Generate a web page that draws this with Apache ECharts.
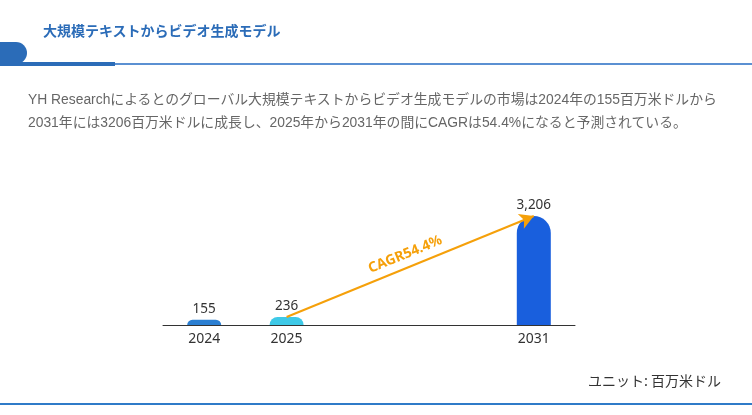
<!DOCTYPE html>
<html>
<head>
<meta charset="utf-8">
<script src="https://cdn.jsdelivr.net/npm/echarts@6/dist/echarts.min.js"></script>
<style>
  html, body { margin: 0; padding: 0; background: #fff; }
  body { width: 752px; height: 415px; position: relative; overflow: hidden; font-family: "Noto Sans CJK JP", "Noto Sans", sans-serif; }
  #chart { position: absolute; left: 0; top: 0; width: 752px; height: 415px; }
  .title { position: absolute; left: 43px; top: 20px; font-size: 14px; font-weight: bold; color: #2b6cb8; line-height: 20px; }
  .tab { position: absolute; left: 0; top: 42px; width: 27px; height: 22px; background: #2b6cb8; border-radius: 0 11px 11px 0; }
  .thick { position: absolute; left: 0; top: 62px; width: 115px; height: 4px; background: #2b6cb8; }
  .thin { position: absolute; left: 115px; top: 63px; width: 637px; height: 1.5px; background: #5b90d2; }
  .para { position: absolute; left: 28px; top: 88px; font-family: "Liberation Sans", "Noto Sans CJK JP", sans-serif; font-size: 13.85px; color: #666; line-height: 23px; white-space: nowrap; }
  .unit { position: absolute; right: 31px; top: 370px; font-size: 14px; color: #333; line-height: 20px; }
  .bottom { position: absolute; left: 0; top: 403px; width: 752px; height: 1.5px; background: #2f7bc8; }
</style>
</head>
<body>
<div id="chart"></div>
<div class="title">大規模テキストからビデオ生成モデル</div>
<div class="tab"></div>
<div class="thick"></div>
<div class="thin"></div>
<div class="para">YH Researchによるとのグローバル大規模テキストからビデオ生成モデルの市場は2024年の155百万米ドルから<br>2031年には3206百万米ドルに成長し、2025年から2031年の間にCAGRは54.4%になると予測されている。</div>
<div class="unit">ユニット: 百万米ドル</div>
<div class="bottom"></div>
<script>
const categories = ['2024', '2025', '', '', '2031'];
const values = [155, 236, null, null, 3206];
const barColors = ['#2b7fd2', '#3ec9e7', null, null, '#195fdd'];
const cagrLabel = 'CAGR54.4%';
const cagrFrom = ['2025', 236];
const cagrTo = ['2031', 3206];

const chart = echarts.init(document.getElementById('chart'));
chart.setOption({
  animation: false,
  grid: { left: 163, width: 412, top: 206, height: 119 },
  xAxis: {
    type: 'category',
    data: categories,
    axisLine: { lineStyle: { color: '#333', width: 1 } },
    axisTick: { show: false },
    axisLabel: { color: '#333', fontSize: 14, margin: 7, fontFamily: 'Noto Sans' }
  },
  yAxis: {
    type: 'value', min: 0, max: 3500,
    show: false, splitLine: { show: false }
  },
  series: [{
    type: 'bar',
    barWidth: 34,
    data: values.map((v, i) => v == null ? '-' : { value: v, itemStyle: { color: barColors[i] } }),
    itemStyle: { borderRadius: [17, 17, 0, 0] },
    label: {
      show: true, position: 'top', distance: 4, color: '#333', fontSize: 13.5, fontFamily: 'Noto Sans',
      formatter: p => p.value.toLocaleString('en-US')
    },
    markLine: {
      silent: true,
      symbol: ['none', 'arrow'],
      symbolSize: [12, 14],
      lineStyle: { color: '#f5a00a', width: 2, type: 'solid' },
      label: {
        show: true, position: 'insideMiddleTop', formatter: cagrLabel,
        color: '#f5a00a', fontSize: 14, fontWeight: 'bold', fontFamily: 'Noto Sans', distance: 6
      },
      data: [[{ coord: cagrFrom }, { coord: cagrTo }]]
    }
  }]
});
</script>
</body>
</html>
